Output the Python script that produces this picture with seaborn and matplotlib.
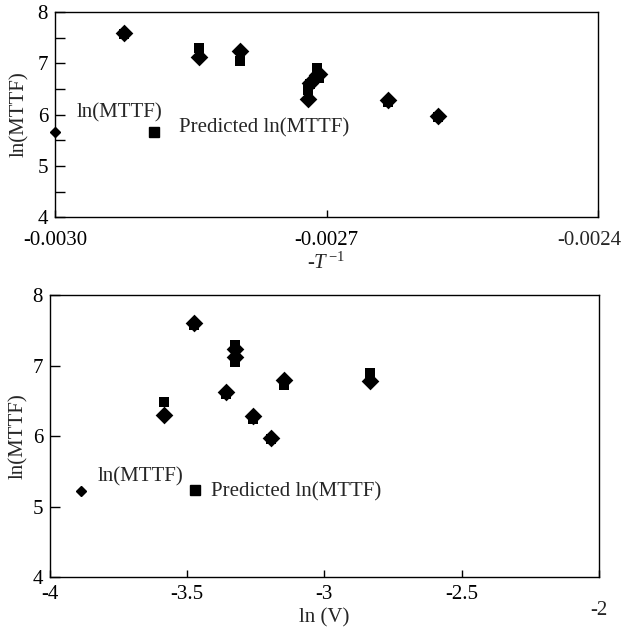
import numpy as np
import pandas as pd
import matplotlib
matplotlib.use("Agg")
import matplotlib.pyplot as plt
import seaborn as sns

# data (9 specimens)
inv_T = [-0.002924, -0.002841, -0.002796, -0.002721, -0.002718, -0.002711, -0.002708, -0.002632, -0.002577]
ln_V = [-3.475, -3.326, -3.326, -3.584, -3.357, -2.832, -3.147, -3.260, -3.195]
ln_mttf = [7.60, 7.12, 7.24, 6.30, 6.62, 6.78, 6.80, 6.28, 5.97]
ln_mttf_pred = [7.58, 7.29, 7.05, 6.48, 6.60, 6.90, 6.72, 6.24, 5.96]

df = pd.DataFrame({"invT": inv_T, "lnV": ln_V, "y": ln_mttf, "pred": ln_mttf_pred})

sns.set_style("white")
plt.rcParams["font.family"] = ["Liberation Serif", "DejaVu Serif"]
plt.rcParams["mathtext.fontset"] = "custom"
plt.rcParams["mathtext.rm"] = "Liberation Serif"
plt.rcParams["mathtext.it"] = "Liberation Serif:italic"
plt.rcParams["axes.edgecolor"] = "black"
plt.rcParams["axes.linewidth"] = 1.0

FS = 15
fig = plt.figure(figsize=(6.25, 6.35), dpi=100)
ax1 = fig.add_axes([0.088, 0.658, 0.869, 0.323])
ax2 = fig.add_axes([0.080, 0.0913, 0.878, 0.444])


def draw(ax, xcol):
    sns.scatterplot(data=df, x=xcol, y="pred", marker="s", s=52, color="black",
                    linewidth=0, ax=ax, zorder=3)
    sns.scatterplot(data=df, x=xcol, y="y", marker="D", s=81, color="black",
                    linewidth=0, ax=ax, zorder=4)
    ax.set_ylim(4, 8)
    ax.set_yticks([4, 5, 6, 7, 8])
    ax.tick_params(axis="both", which="both", direction="in", labelsize=FS,
                   colors="black", width=1)
    for s in ax.spines.values():
        s.set_visible(True)
        s.set_color("black")


# ---- top: ln(MTTF) vs -1/T
draw(ax1, "invT")
ax1.set_xlim(-0.0030, -0.0024)
ax1.set_xticks([-0.0030, -0.0027, -0.0024])
ax1.set_xticklabels(["-0.0030", "-0.0027", ""])
# last label sits flush with the figure edge in the original
ax1.text(1.042, -0.113, "-0.0024", fontsize=FS, ha="right", va="center",
         transform=ax1.transAxes)
ax1.set_yticks(np.arange(4, 8.01, 0.5), minor=True)
ax1.tick_params(axis="y", which="both", length=7, pad=5, left=True)
ax1.tick_params(axis="x", length=5, pad=10, bottom=True)
ax1.set_xlabel(r"-$\mathit{T}^{\,\mathrm{-1}}$", fontsize=FS, va="center")
ax1.xaxis.set_label_coords(0.5, -0.224)
ax1.set_ylabel("ln(MTTF)", fontsize=FS)
ax1.yaxis.set_label_coords(-0.048, 0.5)

# legend drawn like the original (markers + loose text)
ax1.plot([0.0], [0.415], marker="D", ms=5.5, color="black", ls="none",
         transform=ax1.transAxes, clip_on=False, zorder=5)
ax1.text(0.039, 0.507, "ln(MTTF)", fontsize=FS, va="center", transform=ax1.transAxes)
ax1.plot([0.182], [0.415], marker="s", ms=6.5, color="black", ls="none",
         transform=ax1.transAxes, zorder=5)
ax1.text(0.228, 0.434, "Predicted ln(MTTF)", fontsize=FS, va="center", transform=ax1.transAxes)

# ---- bottom: ln(MTTF) vs ln(V)
draw(ax2, "lnV")
ax2.set_xlim(-4, -2)
ax2.set_xticks([-4, -3.5, -3, -2.5, -2])
ax2.set_xticklabels(["-4", "-3.5", "-3", "-2.5", ""])
ax2.text(1.0, -0.117, "-2", fontsize=FS, ha="center", va="center", transform=ax2.transAxes)
ax2.tick_params(axis="y", length=7, pad=5, left=True)
ax2.tick_params(axis="x", length=5, pad=6, bottom=True)
ax2.set_xlabel("ln (V)", fontsize=FS, va="center")
ax2.xaxis.set_label_coords(0.5, -0.145)
ax2.set_ylabel("ln(MTTF)", fontsize=FS)
ax2.yaxis.set_label_coords(-0.040, 0.5)

ax2.plot([0.056], [0.305], marker="D", ms=5.5, color="black", ls="none",
         transform=ax2.transAxes, zorder=5)
ax2.text(0.086, 0.355, "ln(MTTF)", fontsize=FS, va="center", transform=ax2.transAxes)
ax2.plot([0.264], [0.309], marker="s", ms=6.5, color="black", ls="none",
         transform=ax2.transAxes, zorder=5)
ax2.text(0.293, 0.301, "Predicted ln(MTTF)", fontsize=FS, va="center", transform=ax2.transAxes)

fig.savefig("out.png", dpi=100, facecolor="white")
